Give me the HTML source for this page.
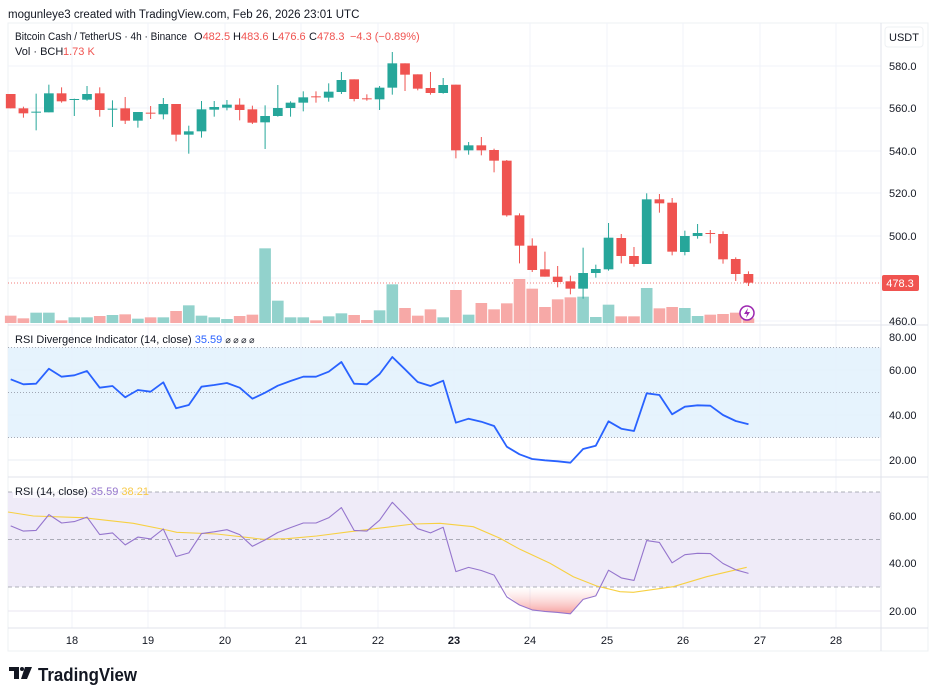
<!DOCTYPE html>
<html><head><meta charset="utf-8">
<style>
html,body{margin:0;padding:0;background:#fff;width:936px;height:700px;overflow:hidden}
svg{display:block;font-family:"Liberation Sans",sans-serif}
</style></head><body>
<svg id="s" width="936" height="700" viewBox="0 0 936 700" xmlns="http://www.w3.org/2000/svg">
<text x="8" y="18" font-size="11.5" fill="#131722">mogunleye3 created with TradingView.com, Feb 26, 2026 23:01 UTC</text>
<rect x="8" y="23" width="920" height="628" fill="none" stroke="#eef0f3"/>
<g id="grid"></g>
<rect x="8" y="347.5" width="873" height="90" fill="#e3f2fd" opacity="0.9"/>
<rect x="8" y="492" width="873" height="95" fill="#efebf8"/>
<g id="g2"></g>
<g id="c"></g>
<line x1="8" y1="325" x2="928" y2="325" stroke="#e0e3eb"/>
<line x1="8" y1="477" x2="928" y2="477" stroke="#e0e3eb"/>
<line x1="8" y1="628" x2="928" y2="628" stroke="#e0e3eb"/>
<line x1="881" y1="23" x2="881" y2="651" stroke="#e0e3eb"/>
<rect x="885" y="27" width="38" height="20" rx="3" fill="#fff" stroke="#eef0f3"/>
<text x="904" y="41" font-size="11" fill="#131722" text-anchor="middle">USDT</text>
<g font-size="11" fill="#131722">
<text x="889" y="70">580.0</text><text x="889" y="112">560.0</text><text x="889" y="155">540.0</text>
<text x="889" y="197">520.0</text><text x="889" y="240">500.0</text><text x="889" y="325">460.0</text>
<text x="889" y="341">80.00</text>
<text x="889" y="374">60.00</text><text x="889" y="419">40.00</text><text x="889" y="464">20.00</text>
<text x="889" y="520">60.00</text><text x="889" y="567">40.00</text><text x="889" y="615">20.00</text>
</g>
<rect x="882" y="275" width="37" height="16" rx="2" fill="#f05350"/>
<text x="900" y="287" font-size="11" fill="#fff" text-anchor="middle">478.3</text>
<g font-size="11" fill="#131722" text-anchor="middle">
<text x="72" y="644">18</text><text x="148" y="644">19</text><text x="225" y="644">20</text><text x="301" y="644">21</text><text x="378" y="644">22</text><text x="454" y="644" font-weight="bold">23</text><text x="530" y="644">24</text><text x="607" y="644">25</text><text x="683" y="644">26</text><text x="760" y="644">27</text><text x="836" y="644">28</text>
</g>
<g font-size="11" fill="#131722">
<text x="15" y="40" textLength="172" lengthAdjust="spacingAndGlyphs">Bitcoin Cash / TetherUS · 4h · Binance</text>
<text x="194" y="40">O<tspan fill="#f05350">482.5</tspan></text>
<text x="233" y="40">H<tspan fill="#f05350">483.6</tspan></text>
<text x="272" y="40">L<tspan fill="#f05350">476.6</tspan></text>
<text x="309" y="40">C<tspan fill="#f05350">478.3</tspan></text>
<text x="350" y="40" fill="#f05350">−4.3 (−0.89%)</text>
<text x="15" y="55">Vol · BCH</text><text x="63" y="55" fill="#f05350">1.73 K</text>
</g>
<text x="15" y="343" font-size="11" fill="#131722">RSI Divergence Indicator (14, close)  <tspan fill="#2962ff">35.59</tspan> <tspan font-size="9">⌀ ⌀ ⌀ ⌀</tspan></text>
<rect x="13" y="485" width="130" height="13" fill="#fff" opacity="0.6"/>
<text x="15" y="495" font-size="11" fill="#131722">RSI (14, close)  <tspan fill="#9575cd">35.59</tspan> <tspan fill="#f7c948">38.21</tspan></text>
<circle cx="747" cy="313" r="7" fill="#fff" stroke="#9c27b0" stroke-width="1.5"/>
<path d="M748 308 L744 314 L747 314 L746 318 L750 312 L747 312 Z" fill="#9c27b0"/>
<g transform="translate(9,667)" fill="#131722">
<path d="M0 0 H10 V12 H5 V4 H0 Z"/><circle cx="13" cy="2" r="2"/><path d="M16 0 H23 L18 12 H12 Z"/>
</g>
<text x="38" y="681" font-size="18" font-weight="bold" fill="#131722" textLength="99" lengthAdjust="spacingAndGlyphs">TradingView</text>
</svg>
<script>
var NS="http://www.w3.org/2000/svg";
function el(p,t,a){var e=document.createElementNS(NS,t);for(var k in a)e.setAttribute(k,a[k]);p.appendChild(e);return e;}
var grid=document.getElementById('grid'),g2=document.getElementById('g2'),c=document.getElementById('c');
[72,148,225,301,378,454,530,607,683,760,836].forEach(function(x){el(grid,'line',{x1:x,y1:23,x2:x,y2:628,stroke:'#f0f3fa'});});
[66,108,151,193,236,278,321].forEach(function(y){el(grid,'line',{x1:8,y1:y,x2:881,y2:y,stroke:'#f0f3fa'});});
[370,415,460].forEach(function(y){el(grid,'line',{x1:8,y1:y,x2:881,y2:y,stroke:'#e8ecf3'});});
[516,563,611].forEach(function(y){el(grid,'line',{x1:8,y1:y,x2:881,y2:y,stroke:'#e8e6f0'});});
[347.5,392.5,437.5].forEach(function(y){el(g2,'line',{x1:8,y1:y,x2:881,y2:y,stroke:'#8a8f9c','stroke-dasharray':'1,2','stroke-width':0.8});});
[492,539.5,587].forEach(function(y){el(g2,'line',{x1:8,y1:y,x2:881,y2:y,stroke:'#9598a1','stroke-dasharray':'4,3','stroke-width':0.8});});
el(g2,'line',{x1:8,y1:283,x2:881,y2:283,stroke:'#f05350','stroke-dasharray':'1,2','stroke-width':0.8});
var C=[[132,175,132,175,0],[175,190,170,203,0],[185,187,131,241,1],[130,187,104,187,1],[130,154,112,158,0],[147,150,146,198,1],[132,149,108,152,1],[130,180,112,200,0],[176,179,151,231,1],[175,212,141,222,0],[186,212,186,233,1],[188,190,168,207,0],[162,193,144,208,1],[162,254,162,274,0],[244,254,227,311,1],[178,244,153,263,1],[171,179,153,200,1],[164,173,150,181,1],[164,180,145,211,0],[178,218,167,222,0],[198,217,166,297,1],[174,198,105,200,1],[158,174,154,200,1],[142,158,124,184,1],[139,141,124,158,0],[125,143,100,155,1],[90,126,66,132,1],[88,147,88,154,0],[145,147,133,152,0],[113,148,108,180,1],[40,113,6,134,1],[40,74,40,123,0],[73,116,73,121,0],[114,129,66,134,0],[105,129,84,131,1],[104,301,104,325,0],
[286,301,276,314,1],[286,301,261,316,0],[300,332,296,367,0],[332,496,330,500,0],[496,587,490,640,0],[587,660,565,666,0],[658,680,605,680,0],[680,696,648,712,0],[694,716,677,733,0],[669,716,593,746,1],[657,669,644,683,1],[563,658,519,662,1],[564,618,552,640,0],[618,642,591,650,0],[448,642,430,642,1],[448,460,432,488,0],[458,605,444,616,0],[558,606,542,616,1],[549,558,522,566,1],[549,551,540,580,0],[552,628,544,641,0],[627,672,622,693,0],[672,698,664,708,0]];
var V=[[797,0],[805,0],[788,1],[788,1],[811,0],[802,1],[802,1],[798,0],[795,1],[793,0],[806,1],[802,0],[802,1],[783,0],[766,1],[797,1],[802,1],[807,1],[798,0],[794,0],[595,1],[752,1],[802,1],[802,1],[811,0],[799,1],[790,1],[795,0],[810,0],[781,1],[703,1],[774,0],[797,0],[778,0],[802,1],[720,0],
[794,1],[759,0],[778,0],[760,0],[687,0],[716,0],[771,0],[748,0],[742,0],[740,1],[801,1],[764,1],[799,0],[799,0],[714,1],[775,0],[771,0],[774,1],[798,1],[794,0],[792,0],[788,0],[805,0]];
function cx(i){return 10.7+12.72*i;}
V.forEach(function(v,i){var t=50+v[0]/3;el(c,'rect',{x:cx(i)-5.8,y:t,width:11.6,height:323-t,fill:v[1]?'#92d2cc':'#f7a9a7'});});
C.forEach(function(d,i){var x=cx(i),col=d[4]?'#26a69a':'#ef5350';var f=function(z){return 50+z/3;};
el(c,'line',{x1:x,y1:f(d[2]),x2:x,y2:f(d[3]),stroke:col,'stroke-width':1});
var bt=f(d[0]),bb=f(d[1]);if(bb-bt<1)bb=bt+1;
el(c,'rect',{x:x-4.85,y:bt,width:9.7,height:bb-bt,fill:col});});
var R=[163,178,176,131,155,151,138,188,183,217,195,200,172,250,240,185,180,174,188,221,203,182,168,155,155,140,111,176,178,147,96,133,171,183,167,293,281,290,303,365,388,402,406,409,413,372,362,289,311,318,205,210,268,245,241,242,270,288,298];
var p1=[],p2=[];
R.forEach(function(z,i){var y=325+z/3,v=20+(460-y)/2.25;p1.push(cx(i).toFixed(1)+','+y.toFixed(1));p2.push(cx(i).toFixed(1)+','+(611-(v-20)*2.375).toFixed(1));});
var fp=[];for(var i=39;i<=47;i++){var y=325+R[i]/3,v=20+(460-y)/2.25;fp.push([cx(i),611-(v-20)*2.375]);}
var defs=el(document.getElementById('s'),'defs',{});var lg=el(defs,'linearGradient',{id:'gr',x1:0,y1:0,x2:0,y2:1});
el(lg,'stop',{offset:0,'stop-color':'#f7a9a7','stop-opacity':0});el(lg,'stop',{offset:1,'stop-color':'#f05350','stop-opacity':0.55});
var fpath='M500,587 L504,592 ';for(var i=40;i<=46;i++)fpath+='L'+fp[i-39][0].toFixed(1)+','+fp[i-39][1].toFixed(1)+' ';fpath+='L598,587 Z';
el(c,'path',{d:fpath,fill:'url(#gr)'});
el(c,'polyline',{points:p1.join(' '),fill:'none',stroke:'#2962ff','stroke-width':1.8,'stroke-linejoin':'round'});
var Y=[[24,96],[100,108],[250,113],[330,122],[400,130],[500,150],[530,157],[650,162],[790,178],[860,176],[950,168],[1050,155],[1150,143],[1240,132],[1320,130]].map(function(p){return (p[0]/3).toFixed(1)+','+(480+p[1]/3).toFixed(1);});
[[0,130],[100,140],[180,175],[240,208],[330,250],[400,290],[470,318],[540,335],[580,337],[700,320],[800,290],[920,262]].forEach(function(p){Y.push((440+p[0]/3).toFixed(1)+','+(480+p[1]/3).toFixed(1));});
el(c,'polyline',{points:Y.join(' '),fill:'none',stroke:'#f7d042','stroke-width':1.1});
el(c,'polyline',{points:p2.join(' '),fill:'none',stroke:'#9575cd','stroke-width':1.1,'stroke-linejoin':'round'});
</script>
</body></html>
